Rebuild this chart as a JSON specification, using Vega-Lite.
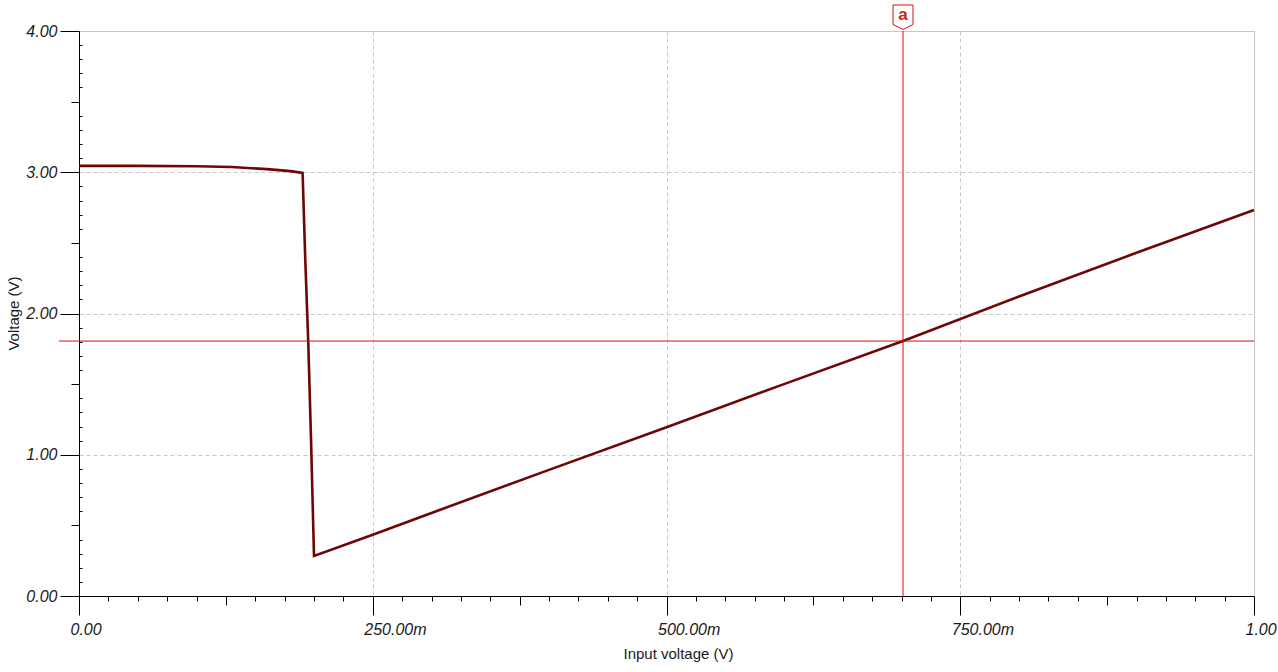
{
  "$schema": "https://vega.github.io/schema/vega-lite/v6.json",
  "autosize": {"type": "none"},
  "width": 1175,
  "height": 565,
  "padding": {"left": 79, "top": 31, "right": 24, "bottom": 76},
  "background": "white",
  "config": {
    "view": {"stroke": "#c4c4c4", "strokeWidth": 1},
    "axis": {
      "labelFont": "Liberation Sans",
      "labelFontStyle": "italic",
      "labelFontSize": 16,
      "labelColor": "#1a1a1a",
      "titleFont": "Liberation Sans",
      "titleFontSize": 15,
      "titleFontWeight": "normal",
      "titleColor": "#1a1a1a",
      "domainColor": "#000000",
      "tickColor": "#000000",
      "domainWidth": 1,
      "tickWidth": 1,
      "gridColor": "#c8c8c8",
      "gridDash": [4, 3],
      "gridWidth": 1,
      "labelFlush": false,
      "labelOverlap": false
    }
  },
  "datasets": {
    "curve": [
      {"vin": 0.0, "vout": 3.045},
      {"vin": 0.05, "vout": 3.045},
      {"vin": 0.1, "vout": 3.043},
      {"vin": 0.13, "vout": 3.037},
      {"vin": 0.16, "vout": 3.022},
      {"vin": 0.18, "vout": 3.008},
      {"vin": 0.1903, "vout": 2.995},
      {"vin": 0.1925, "vout": 2.4},
      {"vin": 0.1951, "vout": 1.8},
      {"vin": 0.1975, "vout": 1.1},
      {"vin": 0.2, "vout": 0.283},
      {"vin": 0.25, "vout": 0.433},
      {"vin": 0.3, "vout": 0.588},
      {"vin": 0.4, "vout": 0.893},
      {"vin": 0.5, "vout": 1.195},
      {"vin": 0.6, "vout": 1.5},
      {"vin": 0.7013, "vout": 1.805},
      {"vin": 0.8, "vout": 2.12},
      {"vin": 0.9, "vout": 2.43},
      {"vin": 1.0, "vout": 2.733}
    ],
    "cursor": [
      {"cx": 0.7013, "cy": 1.805, "hx": -0.017, "hx2": 1.0, "top": 4.0, "label": "a"}
    ]
  },
  "resolve": {"axis": {"x": "independent", "y": "independent"}},
  "layer": [
    {
      "data": {"name": "curve"},
      "mark": {"type": "line", "color": "#6e0606", "strokeWidth": 2.6, "strokeJoin": "miter"},
      "encoding": {
        "x": {
          "field": "vin", "type": "quantitative",
          "scale": {"domain": [0, 1], "nice": false, "zero": false},
          "axis": {
            "orient": "bottom",
            "values": [0, 0.25, 0.5, 0.75, 1],
            "grid": true,
            "tickSize": 19,
            "labelAlign": "left",
            "labelBaseline": "top",
            "labelOffset": -9,
            "labelPadding": 6,
            "labelExpr": "datum.value == 0 ? '0.00' : (datum.value < 1 ? format(datum.value * 1000, '.2f') + 'm' : format(datum.value, '.2f'))",
            "title": "Input voltage (V)",
            "titleX": 599,
            "titleY": 62,
            "titleAlign": "center",
            "titleBaseline": "alphabetic"
          }
        },
        "y": {
          "field": "vout", "type": "quantitative",
          "scale": {"domain": [0, 4], "nice": false, "zero": false},
          "axis": {
            "orient": "left",
            "values": [0, 1, 2, 3, 4],
            "grid": true,
            "tickSize": 19,
            "labelPadding": 3,
            "labelBaseline": "middle",
            "format": ".2f",
            "title": "Voltage (V)",
            "titleX": -66,
            "titleY": 282,
            "titleAlign": "center",
            "titleBaseline": "middle",
            "titleAngle": -90
          }
        }
      }
    },
    {
      "data": {"name": "cursor"},
      "mark": {"type": "rule", "color": "#d01010", "strokeWidth": 1},
      "encoding": {
        "x": {
          "field": "cx", "type": "quantitative",
          "axis": {
            "orient": "bottom",
            "values": [0.025, 0.05, 0.075, 0.1, 0.15, 0.175, 0.2, 0.225, 0.275, 0.3, 0.325, 0.35, 0.4, 0.425, 0.45, 0.475, 0.525, 0.55, 0.575, 0.6, 0.65, 0.675, 0.7, 0.725, 0.775, 0.8, 0.825, 0.85, 0.9, 0.925, 0.95, 0.975],
            "grid": false, "labels": false, "domain": false, "tickSize": 5, "title": null
          }
        }
      }
    },
    {
      "data": {"name": "cursor"},
      "mark": {"type": "rule", "color": "#d01010", "strokeWidth": 1},
      "encoding": {
        "x": {"field": "hx", "type": "quantitative", "axis": null},
        "x2": {"field": "hx2"},
        "y": {
          "field": "cy", "type": "quantitative",
          "axis": {
            "orient": "left",
            "values": [0.1, 0.2, 0.3, 0.4, 0.6, 0.7, 0.8, 0.9, 1.1, 1.2, 1.3, 1.4, 1.6, 1.7, 1.8, 1.9, 2.1, 2.2, 2.3, 2.4, 2.6, 2.7, 2.8, 2.9, 3.1, 3.2, 3.3, 3.4, 3.6, 3.7, 3.8, 3.9],
            "grid": false, "labels": false, "domain": false, "tickSize": -3, "title": null
          }
        }
      }
    },
    {
      "data": {"name": "cursor"},
      "mark": {
        "type": "point",
        "shape": "M-1,-1.2 L1,-1.2 L1,0.75 L0,1.25 L-1,0.75 Z",
        "size": 400,
        "filled": true,
        "fill": "white",
        "stroke": "#d01010",
        "strokeWidth": 1,
        "opacity": 1,
        "yOffset": -14
      },
      "encoding": {
        "x": {
          "field": "cx", "type": "quantitative",
          "axis": {
            "orient": "bottom",
            "values": [0.125, 0.375, 0.625, 0.875],
            "grid": false, "labels": false, "domain": false, "tickSize": 9, "title": null
          }
        },
        "y": {
          "field": "top", "type": "quantitative",
          "axis": {
            "orient": "left",
            "values": [0.5, 1.5, 2.5, 3.5],
            "grid": false, "labels": false, "domain": false, "tickSize": 8, "title": null
          }
        }
      }
    },
    {
      "data": {"name": "cursor"},
      "mark": {
        "type": "text",
        "color": "#d41c1c",
        "font": "Liberation Sans",
        "fontSize": 17,
        "fontWeight": "bold",
        "align": "center",
        "baseline": "middle",
        "yOffset": -16
      },
      "encoding": {
        "x": {"field": "cx", "type": "quantitative", "axis": null},
        "y": {"field": "top", "type": "quantitative", "axis": null},
        "text": {"field": "label"}
      }
    }
  ]
}
